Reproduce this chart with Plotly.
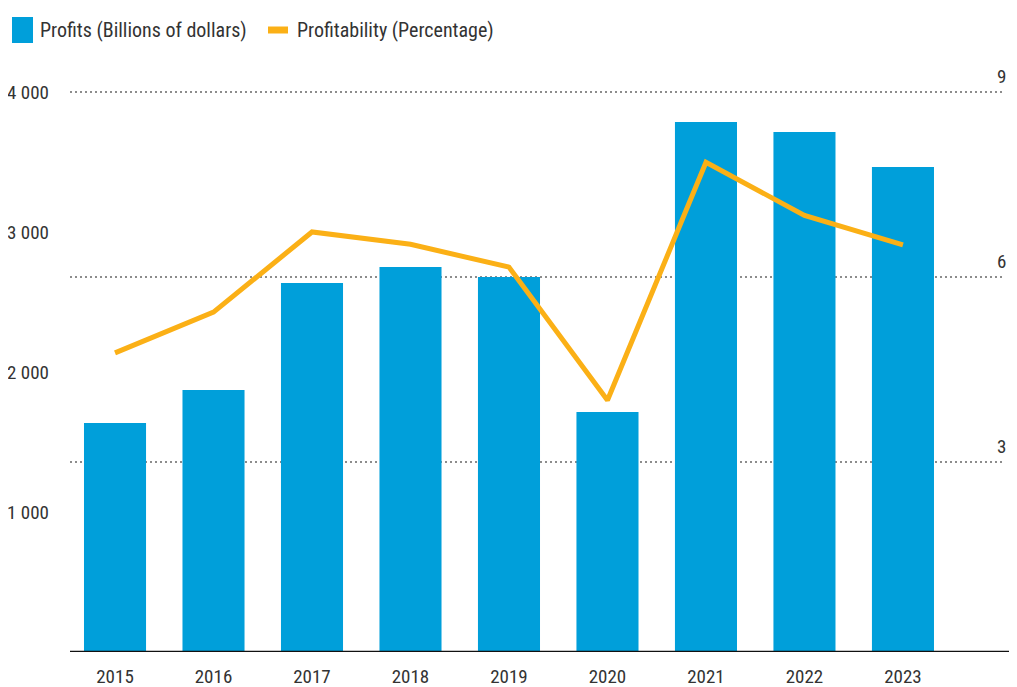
import plotly.graph_objects as go

years = ["2015", "2016", "2017", "2018", "2019", "2020", "2021", "2022", "2023"]
profits = [1636, 1871, 2636, 2750, 2679, 1714, 3786, 3714, 3464]
profitability = [4.77, 5.43, 6.73, 6.53, 6.16, 4.0, 7.86, 7.0, 6.52]
left_ticks = [1000, 2000, 3000, 4000]
left_labels = ["1 000", "2 000", "3 000", "4 000"]
right_ticks = [3, 6, 9]
right_labels = ["3", "6", "9"]

FONT = "Roboto Condensed, Liberation Sans, sans-serif"
TXT = "#333333"
BLUE = "#009FDA"
ORANGE = "#FBB016"

# page has an 8px body margin; figure fills the rest of the window
OFF = 8
FW, FH = 1017 - OFF, 687 - OFF
# plot area in page pixels
L, R, T, B = 70, 1005, 60, 652
W, H = R - L, B - T

def px(x):
    return (x - L) / W

def py(y):
    return (B - y) / H

fig = go.Figure()
fig.add_trace(go.Bar(x=years, y=profits, marker=dict(color=BLUE, line=dict(width=0)),
                     name="Profits (Billions of dollars)", showlegend=False))
fig.add_trace(go.Scatter(x=years, y=profitability, yaxis="y2", mode="lines",
                         line=dict(color=ORANGE, width=5), name="Profitability (Percentage)",
                         showlegend=False))

for v, t in zip(right_ticks, right_labels):
    fig.add_annotation(x=1, xref="paper", y=v, yref="y2", text=t, showarrow=False,
                       xanchor="right", yanchor="bottom", xshift=3, yshift=2,
                       font=dict(family=FONT, size=19, color=TXT))

fig.update_layout(
    width=FW, height=FH,
    margin=dict(l=L - OFF, r=FW - (R - OFF), t=T - OFF, b=FH - (B - OFF), autoexpand=False),
    paper_bgcolor="white", plot_bgcolor="white",
    bargap=0.37,
    font=dict(family=FONT, color=TXT, size=19),
    xaxis=dict(range=[-0.457, 9.036], showgrid=False, showline=False, ticks="",
               automargin=False, zeroline=False,
               tickfont=dict(family=FONT, size=19, color=TXT), ticklabelstandoff=11),
    yaxis=dict(range=[0, 4000 * H / (B - 92)], tickvals=left_ticks, ticktext=left_labels,
               showgrid=False, zeroline=False, showline=False, ticks="", automargin=False,
               tickfont=dict(family=FONT, size=19, color=TXT), ticklabelstandoff=20),
    yaxis2=dict(range=[-(B - 647) / 61.67, 9 + (92 - T) / 61.67], overlaying="y", side="right",
                tickvals=right_ticks, showticklabels=False, showgrid=True, automargin=False,
                gridcolor="#8c8c8c", gridwidth=2, griddash="2px,3px", zeroline=False,
                showline=False, ticks=""),
)

# x axis line, extending to the right edge
fig.add_shape(type="line", xref="paper", yref="y", x0=0, x1=px(1017), y0=0, y1=0,
              line=dict(color="#111111", width=2.5), layer="above")

# legend
fig.add_shape(type="rect", xref="paper", yref="paper",
              x0=px(12), x1=px(33), y0=py(43), y1=py(17),
              fillcolor=BLUE, line=dict(width=0))
fig.add_annotation(x=px(38), xref="paper", y=py(30), yref="paper",
                   text="Profits (Billions of dollars)", showarrow=False,
                   xanchor="left", yanchor="middle",
                   font=dict(family=FONT, size=20, color=TXT))
fig.add_shape(type="line", xref="paper", yref="paper",
              x0=px(268), x1=px(288), y0=py(30), y1=py(30),
              line=dict(color=ORANGE, width=7))
fig.add_annotation(x=px(295), xref="paper", y=py(30), yref="paper",
                   text="Profitability (Percentage)", showarrow=False,
                   xanchor="left", yanchor="middle",
                   font=dict(family=FONT, size=20, color=TXT))

fig.write_html("out.html")
